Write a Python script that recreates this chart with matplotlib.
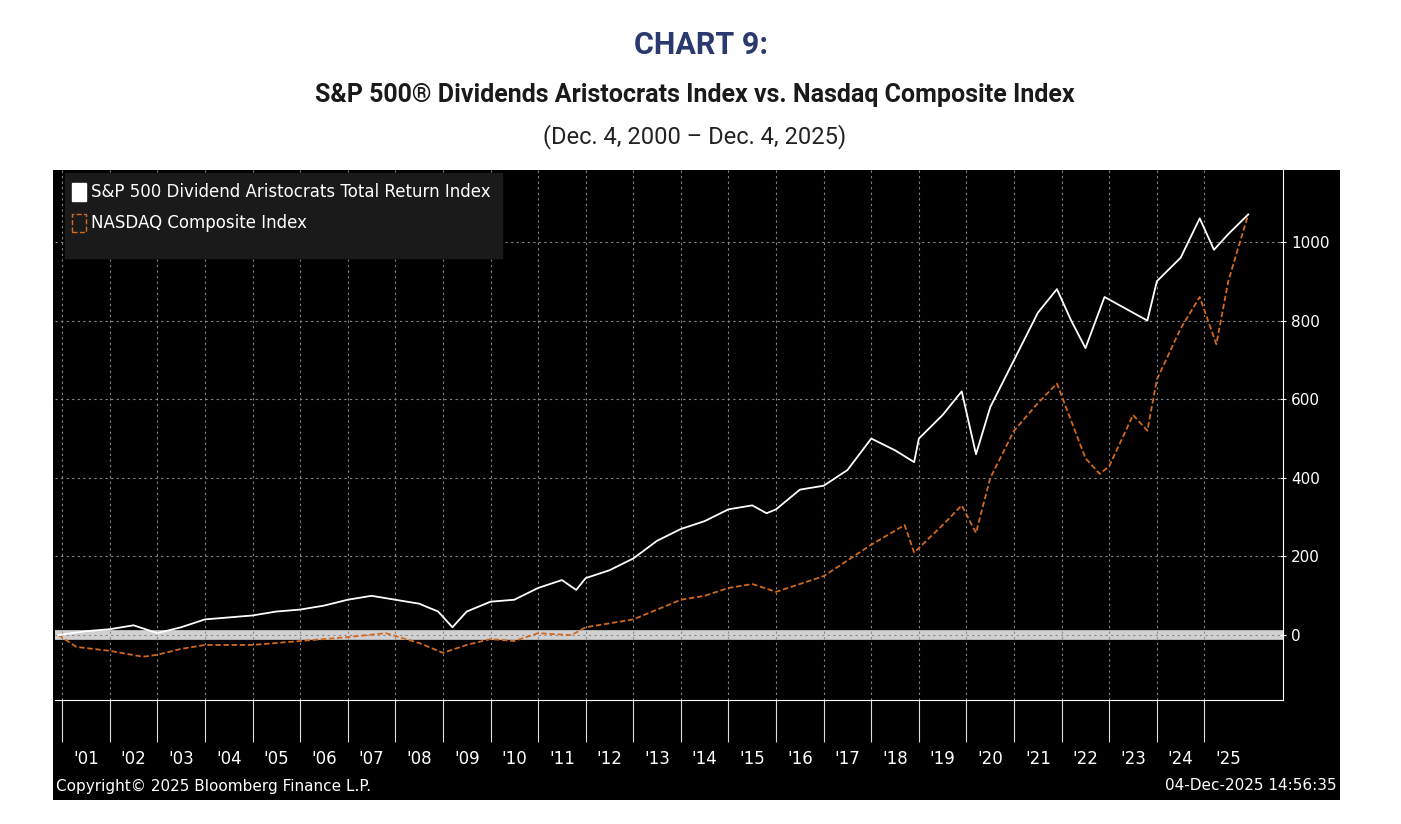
import matplotlib
matplotlib.use("Agg")
import matplotlib.pyplot as plt
from matplotlib.patches import Rectangle
import numpy as np

aris_t = [2000.92,2001.5,2002.0,2002.5,2003.0,2003.5,2004.0,2004.5,2005.0,2005.5,2006.0,2006.5,2007.0,2007.5,2008.0,2008.5,2008.9,2009.2,2009.5,2010.0,2010.5,2011.0,2011.5,2011.8,2012.0,2012.5,2013.0,2013.5,2014.0,2014.5,2015.0,2015.5,2015.8,2016.0,2016.5,2017.0,2017.5,2018.0,2018.5,2018.9,2019.0,2019.5,2019.9,2020.2,2020.5,2021.0,2021.5,2021.9,2022.2,2022.5,2022.9,2023.2,2023.5,2023.8,2024.0,2024.5,2024.9,2025.2,2025.5,2025.92]
aris_v = [0,10,15,25,5,20,40,45,50,60,65,75,90,100,90,80,60,20,60,85,90,120,140,115,145,165,195,240,270,290,320,330,310,320,370,380,420,500,470,440,500,560,620,460,580,700,820,880,800,730,860,840,820,800,900,960,1060,980,1020,1070]
nas_t = [2000.92,2001.3,2002.0,2002.7,2003.0,2003.5,2004.0,2005.0,2006.0,2007.0,2007.8,2008.5,2009.0,2009.5,2010.0,2010.5,2011.0,2011.7,2012.0,2012.5,2013.0,2013.5,2014.0,2014.5,2015.0,2015.5,2016.0,2016.5,2017.0,2017.5,2018.0,2018.7,2018.9,2019.5,2019.9,2020.2,2020.5,2021.0,2021.5,2021.9,2022.5,2022.8,2023.0,2023.5,2023.8,2024.0,2024.5,2024.9,2025.25,2025.5,2025.92]
nas_v = [0,-30,-40,-55,-50,-35,-25,-25,-15,-5,5,-20,-45,-25,-10,-15,5,0,20,30,40,65,90,100,120,130,110,130,150,190,230,280,210,280,330,260,400,520,590,640,450,410,430,560,520,650,780,860,740,900,1070]
years = list(range(2001, 2026))
year_labels = ["'%02d" % (y % 100) for y in years]
y_ticks = [0, 200, 400, 600, 800, 1000]

W, H = 1401, 824
fig = plt.figure(figsize=(W/100, H/100), dpi=100)
fig.patch.set_facecolor("white")
bg = fig.add_axes([53/W, (H-800)/H, (1340-53)/W, (800-170)/H], zorder=-5)
bg.set_facecolor("black")
bg.set_xticks([]); bg.set_yticks([])
for s in bg.spines.values():
    s.set_visible(False)

fig.text(701/W, 1-45/H, "CHART 9:", ha="center", va="center", fontsize=22,
         fontweight="bold", color="#2b3a6e", family="Roboto")
fig.text(695/W, 1-95/H, "S&P 500® Dividends Aristocrats Index vs. Nasdaq Composite Index",
         ha="center", va="center", fontsize=18, fontweight="bold", color="#1a1a1a", family="Roboto")
fig.text(695/W, 1-137/H, "(Dec. 4, 2000 – Dec. 4, 2025)", ha="center", va="center",
         fontsize=17, color="#222222", family="Roboto")

ax = fig.add_axes([55/W, (H-700)/H, (1283-55)/W, (700-170)/H], zorder=1)
ax.set_facecolor("black")
ax.set_xlim(2000.85, 2026.65)
ax.set_ylim(-165, 1183)
ax.axhline(0, color="#d0d0d0", lw=7, zorder=1)
ax.plot(nas_t, nas_v, color="#d2691e", lw=1.3, ls=(0, (3, 1.5)), zorder=2)
ax.plot(aris_t, aris_v, color="white", lw=1.3, zorder=3)
for s in ["top", "left"]:
    ax.spines[s].set_visible(False)
ax.spines["right"].set_color("white")
ax.spines["bottom"].set_color("white")
ax.yaxis.tick_right()
ax.set_yticks(y_ticks)
ax.tick_params(axis="y", colors="white", labelsize=11, length=5, direction="inout")
ax.set_xticks(years)
ax.set_xticklabels([])
ax.set_xticks([y + 0.5 for y in years], minor=True)
ax.set_xticklabels(year_labels, minor=True)
ax.tick_params(axis="x", which="major", colors="#dddddd", length=30, direction="out")
ax.tick_params(axis="x", which="minor", colors="white", length=0, pad=36, labelsize=12)
ax.grid(True, which="major", color="#888888", ls=(0, (2, 3)), lw=0.8)
ax.grid(False, which="minor")

# legend
ax.add_patch(Rectangle((2001.05, 960), 9.2, 215, color="#1a1a1a", zorder=4))
ax.add_patch(Rectangle((2001.2, 1105), 0.3, 45, color="white", zorder=5))
ax.add_patch(Rectangle((2001.2, 1025), 0.3, 45, fill=False, ec="#d2691e", ls="--", zorder=5))
ax.text(2001.6, 1127, "S&P 500 Dividend Aristocrats Total Return Index", color="white",
        fontsize=12, va="center", zorder=6)
ax.text(2001.6, 1047, "NASDAQ Composite Index", color="white", fontsize=12, va="center", zorder=6)

fig.text(56/W, 1-786/H, "Copyright© 2025 Bloomberg Finance L.P.", color="white", fontsize=11, va="center")
fig.text(1337/W, 1-786/H, "04-Dec-2025 14:56:35", color="white", fontsize=11, va="center", ha="right")
fig.savefig("out.png", dpi=100)
